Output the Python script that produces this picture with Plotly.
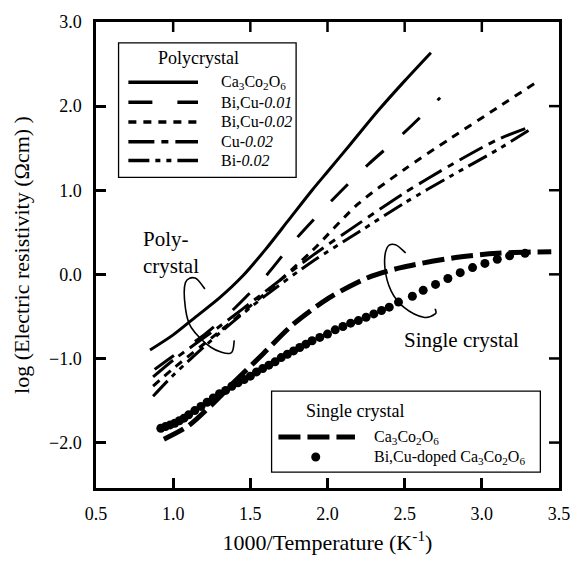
import plotly.graph_objects as go

# ---------------- data ----------------
poly_names = ["Ca<sub>3</sub>Co<sub>2</sub>O<sub>6</sub>", "Bi,Cu-<i>0.01</i>",
              "Bi,Cu-<i>0.02</i>", "Cu-<i>0.02</i>", "Bi-<i>0.02</i>"]

poly_ca_x = [0.85, 1.0, 1.15, 1.3, 1.45, 1.6, 1.75, 1.9, 2.0, 2.15, 2.33, 2.5, 2.67]
poly_ca_y = [-0.90, -0.72, -0.50, -0.28, -0.02, 0.30, 0.65, 1.00, 1.22, 1.55, 1.95, 2.30, 2.635]

poly_bicu01_x = [0.88, 1.0, 1.2, 1.4, 1.6, 1.8, 2.05, 2.26, 2.5, 2.73]
poly_bicu01_y = [-1.13, -0.97, -0.72, -0.40, -0.02, 0.43, 0.92, 1.30, 1.69, 2.10]

poly_bicu02_x = [0.87, 1.0, 1.3, 1.6, 1.9, 2.2, 2.5, 2.8, 3.1, 3.35]
poly_bicu02_y = [-1.33, -1.12, -0.68, -0.22, 0.28, 0.84, 1.25, 1.62, 1.98, 2.28]

poly_cu02_x = [0.87, 1.0, 1.3, 1.6, 1.9, 2.2, 2.5, 2.8, 3.1, 3.32]
poly_cu02_y = [-1.22, -1.02, -0.62, -0.20, 0.22, 0.60, 0.97, 1.30, 1.60, 1.76]

poly_bi02_x = [0.87, 1.0, 1.3, 1.6, 1.9, 2.2, 2.5, 2.8, 3.1, 3.32]
poly_bi02_y = [-1.45, -1.20, -0.70, -0.25, 0.15, 0.50, 0.85, 1.17, 1.48, 1.73]

single_names = ["Ca<sub>3</sub>Co<sub>2</sub>O<sub>6</sub>",
                "Bi,Cu-doped Ca<sub>3</sub>Co<sub>2</sub>O<sub>6</sub>"]

single_ca_x = [0.94, 1.1, 1.25, 1.39, 1.585, 1.78, 2.01, 2.26, 2.475, 2.83, 3.1, 3.45]
single_ca_y = [-1.96, -1.80, -1.55, -1.29, -0.94, -0.59, -0.28, -0.04, 0.08, 0.20, 0.25, 0.27]

single_bicu_x = [0.92, 0.95, 0.98, 1.01, 1.04, 1.07, 1.10, 1.14, 1.18, 1.22, 1.26, 1.30,
                 1.34, 1.38, 1.42, 1.46, 1.50, 1.54, 1.58, 1.62, 1.66, 1.70, 1.74, 1.78,
                 1.82, 1.86, 1.90, 1.95, 2.00, 2.05, 2.10, 2.15, 2.20, 2.25, 2.30, 2.35,
                 2.40, 2.46, 2.55, 2.62, 2.70, 2.78, 2.86, 2.94, 3.02, 3.10, 3.18, 3.28]
single_bicu_y = [-1.83, -1.81, -1.79, -1.77, -1.74, -1.71, -1.67, -1.62, -1.57, -1.52, -1.47, -1.42,
                 -1.38, -1.33, -1.29, -1.25, -1.21, -1.16, -1.12, -1.08, -1.04, -0.99, -0.95, -0.91,
                 -0.87, -0.83, -0.79, -0.75, -0.71, -0.66, -0.62, -0.58, -0.55, -0.51, -0.47, -0.43,
                 -0.39, -0.33, -0.26, -0.19, -0.12, -0.05, 0.02, 0.08, 0.13, 0.18, 0.22, 0.25]

x_ticks = [0.5, 1.0, 1.5, 2.0, 2.5, 3.0, 3.5]
y_ticks = [-2.0, -1.0, 0.0, 1.0, 2.0, 3.0]

# ---------------- styles ----------------
FONT = 'Liberation Serif, "Times New Roman", Times, serif'
W, H = 582, 564
ML, MR, MT, MB = 96, 14, 17, 76
PW, PH = W - ML - MR, H - MT - MB
X_RANGE = [0.5, 3.5]
Y_RANGE = [-2.54, 3.0]
TICKLEN = 10

poly_dash = ["solid", "24px,25px", "8px,7px", "26px,7px,7px,7px", "21px,6px,5px,6px,5px,6px"]
poly_series = [(poly_ca_x, poly_ca_y), (poly_bicu01_x, poly_bicu01_y), (poly_bicu02_x, poly_bicu02_y),
               (poly_cu02_x, poly_cu02_y), (poly_bi02_x, poly_bi02_y)]
single_dash = "22px,7px"

fig = go.Figure()
for (xs, ys), name, dash in zip(poly_series, poly_names, poly_dash):
    fig.add_trace(go.Scatter(x=xs, y=ys, mode="lines", name=name, showlegend=False,
                             line=dict(color="black", width=3, dash=dash, shape="spline", smoothing=0.8)))
fig.add_trace(go.Scatter(x=single_ca_x, y=single_ca_y, mode="lines", name=single_names[0],
                         showlegend=False,
                         line=dict(color="black", width=5, dash=single_dash, shape="spline", smoothing=0.8)))
fig.add_trace(go.Scatter(x=single_bicu_x, y=single_bicu_y, mode="markers", name=single_names[1],
                         showlegend=False, marker=dict(color="black", size=9)))


def px2paper(px, py):
    return (px - ML) / PW, (MT + PH - py) / PH


def catmull_path(pts):
    d = "M %f,%f" % pts[0]
    n = len(pts)
    for i in range(n - 1):
        p0 = pts[i - 1] if i > 0 else pts[i]
        p1 = pts[i]
        p2 = pts[i + 1]
        p3 = pts[i + 2] if i + 2 < n else pts[i + 1]
        c1 = (p1[0] + (p2[0] - p0[0]) / 6, p1[1] + (p2[1] - p0[1]) / 6)
        c2 = (p2[0] - (p3[0] - p1[0]) / 6, p2[1] - (p3[1] - p1[1]) / 6)
        d += " C %f,%f %f,%f %f,%f" % (c1 + c2 + p2)
    return d


shapes = []
annotations = []

# mirrored inside ticks on the top and right frame edges
for xv in x_ticks[1:-1]:
    shapes.append(dict(type="line", xref="x", yref="paper", ysizemode="pixel", yanchor=1,
                       x0=xv, x1=xv, y0=0, y1=-TICKLEN, line=dict(color="black", width=2.5)))
for yv in y_ticks[:-1]:
    shapes.append(dict(type="line", xref="paper", yref="y", xsizemode="pixel", xanchor=1,
                       x0=0, x1=-TICKLEN, y0=yv, y1=yv, line=dict(color="black", width=2.5)))

# loops (decorations)
poly_loop = [(1.206, -0.173), (1.142, -0.044), (1.079, -0.10), (1.079, -0.396), (1.117, -0.632),
             (1.244, -0.867), (1.371, -0.938), (1.396, -0.785)]
single_loop = [(2.507, 0.254), (2.440, 0.353), (2.385, 0.313), (2.372, 0.078), (2.412, -0.196),
               (2.496, -0.393), (2.623, -0.511), (2.698, -0.471), (2.698, -0.41)]
for lp in (poly_loop, single_loop):
    shapes.append(dict(type="path", xref="x", yref="y", path=catmull_path(lp),
                       line=dict(color="black", width=1.6)))

annotations.append(dict(x=0.79, y=0.26, xref="x", yref="y", xanchor="left", yanchor="middle",
                        align="left", showarrow=False, text="Poly-<br>crystal",
                        font=dict(family=FONT, size=21, color="black")))
annotations.append(dict(x=2.483, y=-0.785, xref="x", yref="y", xanchor="left", yanchor="middle",
                        showarrow=False, text="Single crystal",
                        font=dict(family=FONT, size=21, color="black")))

# legend 1 (polycrystal)
L1 = (119, 38, 300, 174)
bx0, by0 = px2paper(L1[0], L1[3])
bx1, by1 = px2paper(L1[2], L1[1])
shapes.append(dict(type="rect", xref="paper", yref="paper", x0=bx0, y0=by0, x1=bx1, y1=by1,
                   line=dict(color="black", width=1.3), fillcolor="white", layer="above"))
tx, ty = px2paper(200, 53)
annotations.append(dict(x=tx, y=ty, xref="paper", yref="paper", xanchor="center", yanchor="middle",
                        showarrow=False, text="Polycrystal", font=dict(family=FONT, size=18, color="black")))
rows = [78, 98, 118, 138, 157]
for name, dash, ry in zip(poly_names, poly_dash, rows):
    lx0, ly = px2paper(129, ry)
    lx1, _ = px2paper(200, ry)
    shapes.append(dict(type="line", xref="paper", yref="paper", x0=lx0, x1=lx1, y0=ly, y1=ly,
                       line=dict(color="black", width=3.5, dash=dash), layer="above"))
    ax, _ = px2paper(221, ry)
    annotations.append(dict(x=ax, y=ly, xref="paper", yref="paper", xanchor="left", yanchor="middle",
                            showarrow=False, text=name, font=dict(family=FONT, size=16, color="black")))

# legend 2 (single crystal)
bx0, by0 = px2paper(275, 472)
bx1, by1 = px2paper(549, 390)
shapes.append(dict(type="rect", xref="paper", yref="paper", x0=bx0, y0=by0, x1=bx1, y1=by1,
                   line=dict(color="black", width=1.3), fillcolor="white", layer="above"))
tx, ty = px2paper(360, 410)
annotations.append(dict(x=tx, y=ty, xref="paper", yref="paper", xanchor="center", yanchor="middle",
                        showarrow=False, text="Single crystal", font=dict(family=FONT, size=18, color="black")))
r1, r2 = 436.5, 456.7
lx0, ly = px2paper(282, r1)
lx1, _ = px2paper(360, r1)
shapes.append(dict(type="line", xref="paper", yref="paper", x0=lx0, x1=lx1, y0=ly, y1=ly,
                   line=dict(color="black", width=5, dash=single_dash), layer="above"))
ax, _ = px2paper(377, r1)
annotations.append(dict(x=ax, y=ly, xref="paper", yref="paper", xanchor="left", yanchor="middle",
                        showarrow=False, text=single_names[0], font=dict(family=FONT, size=16, color="black")))
dx, dy = px2paper(320, r2)
shapes.append(dict(type="circle", xref="paper", yref="paper", xsizemode="pixel", ysizemode="pixel",
                   xanchor=dx, yanchor=dy, x0=-4.5, x1=4.5, y0=-4.5, y1=4.5,
                   fillcolor="black", line=dict(color="black", width=0), layer="above"))
annotations.append(dict(x=ax, y=dy, xref="paper", yref="paper", xanchor="left", yanchor="middle",
                        showarrow=False, text=single_names[1], font=dict(family=FONT, size=16, color="black")))

axis_common = dict(showline=True, linecolor="black", linewidth=2.5, mirror=True,
                   ticks="inside", ticklen=TICKLEN, tickwidth=2.5, tickcolor="black",
                   showgrid=False, zeroline=False, tickformat=".1f",
                   tickfont=dict(family=FONT, size=18, color="black"))

fig.update_layout(
    width=W, height=H,
    margin=dict(l=ML, r=MR, t=MT, b=MB),
    paper_bgcolor="white", plot_bgcolor="white",
    font=dict(family=FONT, color="black"),
    shapes=shapes, annotations=annotations,
    xaxis=dict(range=X_RANGE, tickvals=x_ticks, ticklabelstandoff=8,
               title=dict(text="1000/Temperature (K<sup>-1</sup>)", standoff=12,
                          font=dict(family=FONT, size=22, color="black")),
               **axis_common),
    yaxis=dict(range=Y_RANGE, tickvals=y_ticks, ticklabelstandoff=8,
               title=dict(text="log (Electric resistivity (Ωcm) )", standoff=14,
                          font=dict(family=FONT, size=22, color="black")),
               **axis_common),
)

fig.write_html("out.html")
